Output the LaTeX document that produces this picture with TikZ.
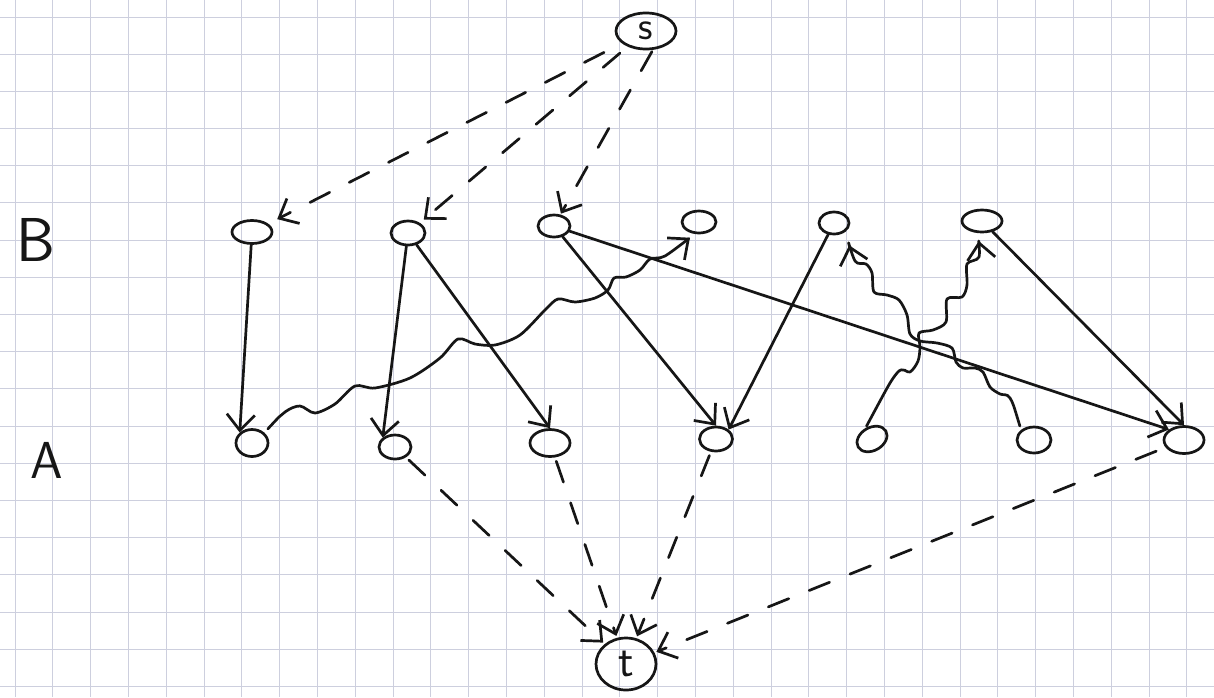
\documentclass[tikz,border=0pt]{standalone}
\usepackage{fontspec}
\usetikzlibrary{shapes.geometric,arrows.meta}
\definecolor{gridcol}{RGB}{205,207,222}
\definecolor{pen}{RGB}{22,22,22}
\begin{document}
\begin{tikzpicture}[x=1pt,y=-1pt,
  ink/.style={line width=2.7pt, draw=pen, line cap=round, line join=round},
  gridline/.style={line width=1.2pt, gridcol},
  vert/.style={ellipse, ink, inner sep=0pt},
  barb/.style={-{Straight Barb[length=16pt,width=28pt]}},
  plain/.style={ink, barb},
  dashedge/.style={ink, barb, dash pattern=on 22pt off 22pt},
  wavy/.style={ink, barb},
  bigsans/.style={font=\sffamily\fontsize{#1}{#1}\selectfont, text=pen}]

% paper
\fill[white] (0,0) rectangle (1214,697);
\useasboundingbox (0,0) rectangle (1214,697);
\foreach \k in {0,...,31} \draw[gridline] ({int(15+37.8*\k)+0.5},0) -- ({int(15+37.8*\k)+0.5},697);
\foreach \j in {0,...,18} \draw[gridline] (0,{int(17+37.2*\j)+0.5}) -- (1214,{int(17+37.2*\j)+0.5});

% row labels
\node[bigsans=62] (labB) at (36,240) {B};
\node[bigsans=52] (labA) at (47,460) {A};

% source and sink
\node[vert, minimum width=60pt, minimum height=36pt, bigsans=40] (s) at (646,31) {s};
\node[vert, minimum width=60pt, minimum height=52pt, bigsans=46] (t) at (626,664) {t};

% upper row B
\node[vert, minimum width=40pt, minimum height=23pt] (b1) at (252,232) {};
\node[vert, minimum width=34pt, minimum height=24pt] (b2) at (408,233) {};
\node[vert, minimum width=32pt, minimum height=22pt] (b3) at (554,226) {};
\node[vert, minimum width=34pt, minimum height=22pt] (b4) at (699,222) {};
\node[vert, minimum width=30pt, minimum height=22pt] (b5) at (834,223) {};
\node[vert, minimum width=40pt, minimum height=22pt] (b6) at (982,221) {};

% lower row A
\node[vert, minimum width=32pt, minimum height=27pt] (a1) at (252,443) {};
\node[vert, minimum width=32pt, minimum height=24pt] (a2) at (395,447) {};
\node[vert, minimum width=40pt, minimum height=27pt] (a3) at (550,443) {};
\node[vert, minimum width=33pt, minimum height=24pt] (a4) at (716,439) {};
\node[vert, minimum width=32pt, minimum height=23pt, rotate=30] (a5) at (872,439) {};
\node[vert, minimum width=34pt, minimum height=26pt] (a6) at (1034,440) {};
\node[vert, minimum width=40pt, minimum height=27pt] (a7) at (1184,440) {};

% dashed edges out of s
\draw[dashedge, shorten <=20pt, shorten >=10pt] (s) -- (b1);
\draw[dashedge, shorten <=10pt, shorten >=5pt] (s) -- (b2);
\draw[dashedge, shorten <=2pt, shorten >=1pt] (s.290) -- (b3);

% dashed edges into t
\draw[dashedge, shorten <=4pt, shorten >=2pt] (a2) -- (t);
\draw[dashedge, shorten <=4pt, shorten >=2pt] (a3) -- (t);
\draw[dashedge, shorten <=4pt, shorten >=2pt] (a4) -- (t);
\draw[dashedge, shorten <=10pt, shorten >=2pt] (a7) -- (t);

% solid edges from B to A
\draw[plain] (b1) -- (a1.north west);
\draw[plain] (b2) -- (a2.north west);
\draw[plain] (b2) -- (a3.north);
\draw[plain] (b3) -- (a4.north);
\draw[plain] (b3) -- (a7.north west);
\draw[plain] (b5) -- (a4.north east);
\draw[plain] (b6) -- (a7.north);

% wavy edges from A to B
\draw[wavy, shorten <=5pt, shorten >=6pt] plot[smooth, tension=0.5] coordinates {
  (a1.40) (285,412) (300,406) (315,413) (335,404) (355,386) (375,388)
  (410,378) (440,358) (458,339) (475,344) (495,345) (520,335) (545,310)
  (558,299) (575,302) (595,298) (608,290) (614,278) (626,277) (640,270)
  (650,259) (665,256) (b4.250)};
\draw[wavy, shorten <=2pt, shorten >=8pt] plot[smooth, tension=0.5] coordinates {
  (a5.north) (897,373) (910,372) (918,361) (920,347) (919,333) (933,330)
  (946,322) (947,299) (962,297) (967,285) (967,264) (979,257) (b6.250)};
\draw[wavy, shorten <=4pt, shorten >=14pt] plot[smooth, tension=0.5] coordinates {
  (a6.north west) (1010,398) (1000,394) (990,387) (983,372) (975,368)
  (963,368) (956,362) (952,348) (937,343) (920,341) (910,334) (907,315)
  (899,300) (887,295) (874,292) (872,273) (866,264) (855,261) (b5.south east)};
\end{tikzpicture}
\end{document}
